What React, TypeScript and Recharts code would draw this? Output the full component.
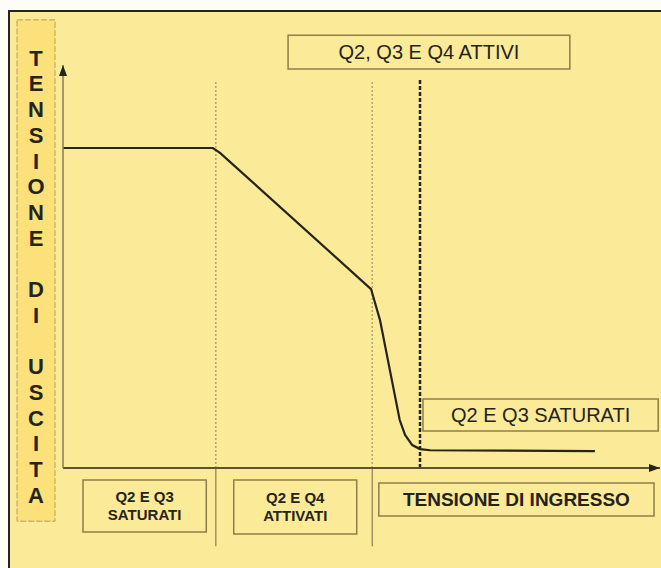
import { LineChart, Line, XAxis, YAxis, ReferenceLine, ReferenceArea } from 'recharts';

// transfer curve (input / output voltage, arbitrary 0-100 units)
const inputVoltage = [0, 25.1, 26.3, 51.6, 53.1, 56.4, 57.3, 58.5, 59.8, 61.5, 89.1];
const outputVoltage = [79.4, 79.4, 78.2, 44.4, 36.7, 11.9, 8.2, 5.7, 4.7, 4.4, 4.2];

const regionEdges = [25.6, 51.8];
const activeThreshold = 59.8;

const yAxisTitle = 'TENSIONE DI USCITA';
const xAxisTitle = 'TENSIONE DI INGRESSO';
const allActiveLabel = 'Q2, Q3 E Q4 ATTIVI';
const saturatedLabel = 'Q2 E Q3 SATURATI';
const regionLabels = [
  ['Q2 E Q3', 'SATURATI'],
  ['Q2 E Q4', 'ATTIVATI'],
];

const data = inputVoltage.map((x, i) => ({ x, y: outputVoltage[i] }));

const INK = '#26231b';
const BOX = '#8e7f48';
const BG = '#fbea98';
const FONT = '"Liberation Sans", Arial, sans-serif';

const boxText = (lines: string[], size: number, weight: number, gap: number) => (props: any) => {
  const { x, y, width, height } = props.viewBox;
  const cx = x + width / 2;
  const start = y + height / 2 - ((lines.length - 1) * gap) / 2;
  return (
    <text textAnchor="middle" fill={INK} fontSize={size} fontWeight={weight} fontFamily={FONT}>
      {lines.map((l, i) => (
        <tspan key={i} x={cx} y={start + i * gap} dy="0.36em">
          {l}
        </tspan>
      ))}
    </text>
  );
};

const verticalTitle = (props: any) => {
  const { x, y, width } = props.viewBox;
  const cx = x + width / 2;
  const letters = yAxisTitle.split('');
  return (
    <text textAnchor="middle" fill={INK} fontSize={22} fontWeight={900} fontFamily={FONT}>
      {letters.map((c, i) => (
        <tspan key={i} x={cx} y={y + 38 + i * 25.7} dy="0.36em">
          {c === ' ' ? '' : c}
        </tspan>
      ))}
    </text>
  );
};

export default function App() {
  return (
    <div style={{ position: 'absolute', left: 0, top: 0, width: 661, height: 568, background: '#fdfcf6', overflow: 'hidden' }}>
      <div
        style={{
          position: 'absolute',
          left: 8,
          top: 10,
          right: -4,
          bottom: -4,
          background: BG,
          borderTop: `2px solid ${INK}`,
          borderLeft: `2px solid ${INK}`,
        }}
      />
      <div style={{ position: 'absolute', left: 0, top: 0 }}>
        <LineChart width={661} height={568} data={data} margin={{ top: 65, right: 1, bottom: 80, left: 43 }}>
          <defs>
            <marker id="arrowUp" markerWidth="10" markerHeight="12" refX="5" refY="0" markerUnits="userSpaceOnUse" orient="0">
              <path d="M5,0 L9,11 L1,11 Z" fill={INK} />
            </marker>
            <marker id="arrowRight" markerWidth="12" markerHeight="10" refX="11" refY="5" markerUnits="userSpaceOnUse" orient="0">
              <path d="M11,5 L0,1 L0,9 Z" fill={INK} />
            </marker>
          </defs>

          {/* y axis title panel */}
          <ReferenceArea
            x1={-7.7}
            x2={-1.34}
            y1={111.2}
            y2={-13.2}
            ifOverflow="visible"
            fill="#fce07a"
            fillOpacity={1}
            stroke="#b59d58"
            strokeWidth={1}
            strokeDasharray="6 2"
            label={verticalTitle}
          />

          <XAxis
            dataKey="x"
            type="number"
            domain={[0, 100]}
            tick={false}
            tickLine={false}
            height={20}
            axisLine={{ stroke: '#5e5230', strokeWidth: 2, markerEnd: 'url(#arrowRight)' }}
          />
          <YAxis
            type="number"
            domain={[0, 100]}
            tick={false}
            tickLine={false}
            width={20}
            axisLine={{ stroke: '#8c7c4c', strokeWidth: 1.5, markerStart: 'url(#arrowUp)' }}
          />

          {regionEdges.map((v) => (
            <ReferenceLine
              key={`d${v}`}
              segment={[{ x: v, y: 0 }, { x: v, y: 96.3 }]}
              ifOverflow="visible"
              stroke="#b8a56e"
              strokeWidth={1.5}
              strokeDasharray="2 2"
            />
          ))}
          {regionEdges.map((v) => (
            <ReferenceLine
              key={`s${v}`}
              segment={[{ x: v, y: -19.4 }, { x: v, y: 0 }]}
              ifOverflow="visible"
              stroke="#8e7f55"
              strokeWidth={1.2}
            />
          ))}
          <ReferenceLine
            segment={[{ x: activeThreshold, y: 0 }, { x: activeThreshold, y: 96.3 }]}
            ifOverflow="visible"
            stroke={INK}
            strokeWidth={2.5}
            strokeDasharray="4 2"
          />

          <ReferenceArea
            x1={37.7}
            x2={84.9}
            y1={107.4}
            y2={99.0}
            ifOverflow="visible"
            fill="none"
            stroke={BOX}
            strokeWidth={1.5}
            label={boxText([allActiveLabel], 20, 400, 0)}
          />
          <ReferenceArea
            x1={60.3}
            x2={99.7}
            y1={17.1}
            y2={9.2}
            ifOverflow="visible"
            fill="none"
            stroke={BOX}
            strokeWidth={1.5}
            label={boxText([saturatedLabel], 20, 400, 0)}
          />
          <ReferenceArea
            x1={52.9}
            x2={99.0}
            y1={-3.7}
            y2={-11.9}
            ifOverflow="visible"
            fill="none"
            stroke={BOX}
            strokeWidth={1.5}
            label={boxText([xAxisTitle], 19, 700, 0)}
          />
          <ReferenceArea
            x1={3.35}
            x2={24.0}
            y1={-3.0}
            y2={-15.9}
            ifOverflow="visible"
            fill="none"
            stroke={BOX}
            strokeWidth={1.5}
            label={boxText(regionLabels[0], 15, 700, 18)}
          />
          <ReferenceArea
            x1={28.6}
            x2={49.2}
            y1={-3.0}
            y2={-16.4}
            ifOverflow="visible"
            fill="none"
            stroke={BOX}
            strokeWidth={1.5}
            label={boxText(regionLabels[1], 15, 700, 18)}
          />

          <Line
            type="linear"
            dataKey="y"
            stroke={INK}
            strokeWidth={2.2}
            dot={false}
            activeDot={false}
            isAnimationActive={false}
          />
        </LineChart>
      </div>
    </div>
  );
}
